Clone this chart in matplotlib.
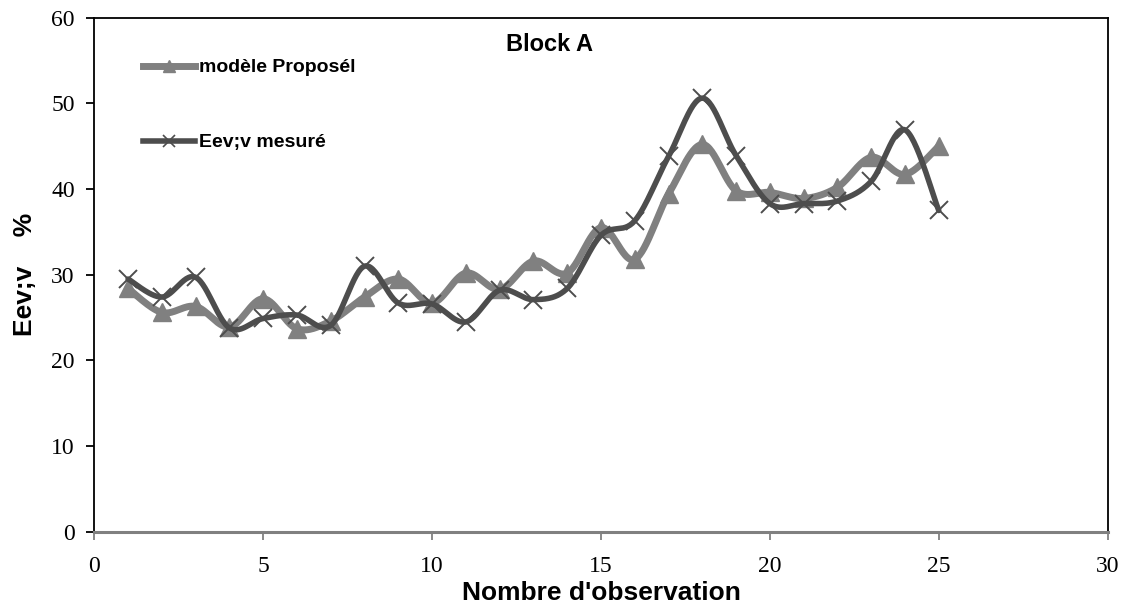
import numpy as np
import matplotlib
matplotlib.use("Agg")
import matplotlib.pyplot as plt
from matplotlib.lines import Line2D

# Observation index and the two series
observations = list(range(1, 26))
modele_propose = [28.4, 25.6, 26.3, 23.9, 27.2, 23.7, 24.6, 27.4, 29.5, 26.7,
                  30.2, 28.3, 31.6, 30.2, 35.5, 31.8, 39.4, 45.2, 39.8, 39.6,
                  38.9, 40.2, 43.7, 41.7, 45.0]
eev_mesure = [29.5, 27.4, 29.7, 23.8, 24.9, 25.3, 24.1, 31.0, 26.7, 26.6,
              24.5, 28.2, 27.1, 28.4, 34.6, 36.3, 43.8, 50.6, 43.9, 38.3,
              38.3, 38.6, 40.9, 46.9, 37.5]

x_ticks = [0, 5, 10, 15, 20, 25, 30]
y_ticks = [0, 10, 20, 30, 40, 50, 60]

LIGHT = "#808080"
DARK = "#4d4d4d"


def smooth(x, y, n=30):
    """Cubic Bezier smoothing through every point (Catmull-Rom style)."""
    x = np.asarray(x, float)
    y = np.asarray(y, float)
    px = np.concatenate([[x[0]], x, [x[-1]]])
    py = np.concatenate([[y[0]], y, [y[-1]]])
    t = np.linspace(0, 1, n)[:, None]
    xs, ys = [], []
    for i in range(1, len(px) - 2):
        p0 = np.array([px[i], py[i]])
        p3 = np.array([px[i + 1], py[i + 1]])
        c1 = p0 + (np.array([px[i + 1], py[i + 1]]) - np.array([px[i - 1], py[i - 1]])) / 6
        c2 = p3 - (np.array([px[i + 2], py[i + 2]]) - np.array([px[i], py[i]])) / 6
        b = ((1 - t) ** 3) * p0 + 3 * ((1 - t) ** 2) * t * c1 + 3 * (1 - t) * t ** 2 * c2 + t ** 3 * p3
        xs.append(b[:, 0])
        ys.append(b[:, 1])
    return np.concatenate(xs), np.concatenate(ys)


fig = plt.figure(figsize=(11.32, 6.05), dpi=100)
ax = fig.add_axes([0.0833, 0.1207, 0.8952, 0.8503])

sx, sy = smooth(observations, modele_propose)
ax.plot(sx, sy, color=LIGHT, lw=5.0, solid_capstyle="round", zorder=2)
ax.plot(observations, modele_propose, ls="none", marker="^", ms=13,
        color=LIGHT, mec=LIGHT, zorder=3)

sx, sy = smooth(observations, eev_mesure)
ax.plot(sx, sy, color=DARK, lw=4.0, solid_capstyle="round", zorder=4)
ax.plot(observations, eev_mesure, ls="none", marker="x", ms=13, mew=1.4,
        color=DARK, zorder=5)

ax.set_xlim(0, 30)
ax.set_ylim(0, 60)
ax.set_xticks(x_ticks)
ax.set_yticks(y_ticks)

serif = ["Liberation Serif", "DejaVu Serif"]
sans = ["Liberation Sans", "DejaVu Sans"]
for lab in ax.get_xticklabels() + ax.get_yticklabels():
    lab.set_fontfamily(serif)
    lab.set_fontsize(17)

for side in ("left", "top", "right"):
    ax.spines[side].set_color("black")
    ax.spines[side].set_linewidth(1.3)
ax.spines["bottom"].set_color(LIGHT)
ax.spines["bottom"].set_linewidth(2.2)

ax.tick_params(axis="y", direction="out", length=6, width=1.3, color="black", pad=8)
ax.tick_params(axis="x", direction="out", length=6, width=1.3, color=LIGHT, pad=11)

ax.set_xlabel("Nombre d'observation", fontfamily=sans, fontweight="bold",
              fontsize=19, labelpad=3)
ax.set_ylabel("Eev;v    %", fontfamily=sans, fontweight="bold", fontsize=19,
              labelpad=10)

ax.text(0.449, 0.947, "Block A", transform=ax.transAxes, ha="center",
        va="center", fontfamily=sans, fontweight="bold", fontsize=17)

handles = [
    Line2D([], [], color=LIGHT, lw=5.0, marker="^", ms=8, mec=LIGHT),
    Line2D([], [], color=DARK, lw=4.0, marker="x", ms=8, mew=1.2),
]
ax.legend(handles, ["modèle Proposél", "Eev;v mesuré"],
          loc="upper left", bbox_to_anchor=(0.040, 0.935), frameon=False,
          prop={"family": sans, "weight": "bold", "size": 14},
          handlelength=2.7, handletextpad=0.2, labelspacing=2.95,
          borderaxespad=0)

fig.savefig("out.png", dpi=100)
